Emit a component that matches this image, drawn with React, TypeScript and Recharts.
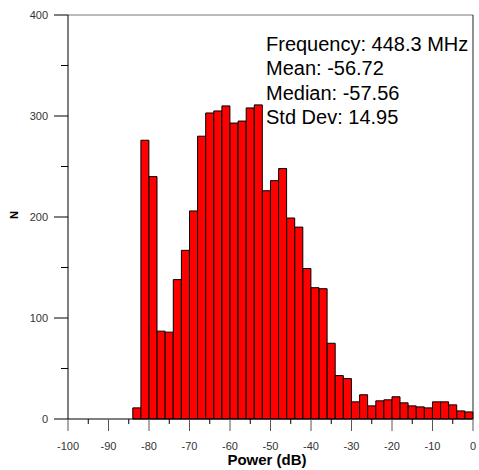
import { ComposedChart, Bar, XAxis, YAxis, ReferenceLine } from "recharts";

// histogram bins, 2 dB wide, left edges
const binStarts = [
  -84, -82, -80, -78, -76, -74, -72, -70, -68, -66, -64, -62, -60, -58,
  -56, -54, -52, -50, -48, -46, -44, -42, -40, -38, -36, -34, -32, -30,
  -28, -26, -24, -22, -20, -18, -16, -14, -12, -10, -8, -6, -4, -2,
];
const counts = [
  11, 276, 240, 87, 86, 138, 167, 206, 280, 303, 305, 310, 293, 295,
  308, 311, 226, 236, 248, 199, 190, 149, 130, 129, 75, 43, 40, 17,
  24, 13, 18, 19, 22, 16, 13, 12, 11, 17, 17, 14, 8, 7,
];
const binWidth = 2;

const xTicks = [-100, -95, -90, -85, -80, -75, -70, -65, -60, -55, -50, -45, -40, -35, -30, -25, -20, -15, -10, -5, 0];
const yTicks = [0, 50, 100, 150, 200, 250, 300, 350, 400];

const statLines = ["Frequency: 448.3 MHz", "Mean: -56.72", "Median: -57.56", "Std Dev: 14.95"];

const data = binStarts.map((s, i) => ({ center: s + binWidth / 2, n: counts[i] }));

const FONT = "'Liberation Sans', Arial, sans-serif";

function XTick(props: any) {
  const { x, y, payload } = props;
  const major = payload.value % 10 === 0;
  return (
    <g>
      <line x1={x} x2={x} y1={y} y2={y + (major ? 12 : 5)} stroke={major ? "#555" : "#000"} strokeWidth={1} />
      {major && (
        <text x={x} y={y + 31} textAnchor="middle" fontSize={11} fill="#333" fontFamily={FONT}>
          {payload.value}
        </text>
      )}
    </g>
  );
}

function YTick(props: any) {
  const { x, y, payload } = props;
  const major = payload.value % 100 === 0;
  return (
    <g>
      <line x1={x - (major ? 14 : 7)} x2={x} y1={y} y2={y} stroke="#000" strokeWidth={1} />
      {major && (
        <text x={x - 20} y={y + 4} textAnchor="end" fontSize={11} fill="#333" fontFamily={FONT}>
          {payload.value}
        </text>
      )}
    </g>
  );
}

export default function App() {
  return (
    <div style={{ position: "absolute", left: 0, top: 0, width: 479, height: 470, background: "#fff" }}>
      <ComposedChart
        width={479}
        height={470}
        data={data}
        margin={{ top: 15, right: 6, left: 0, bottom: 0 }}
        barCategoryGap={0}
        barGap={0}
      >
        <XAxis
          dataKey="center"
          type="number"
          domain={[-100, 0]}
          ticks={xTicks}
          interval={0}
          height={51}
          tickSize={0}
          tickMargin={0}
          tickLine={false}
          axisLine={{ stroke: "#000" }}
          tick={<XTick />}
        />
        <YAxis
          type="number"
          domain={[0, 400]}
          ticks={yTicks}
          interval={0}
          width={68}
          tickSize={0}
          tickMargin={0}
          tickLine={false}
          axisLine={{ stroke: "#000" }}
          tick={<YTick />}
        />
        <ReferenceLine y={400} stroke="#777" />
        <ReferenceLine x={0} stroke="#222" />
        <Bar dataKey="n" fill="#ff0000" stroke="#000" strokeWidth={1} isAnimationActive={false} />
      </ComposedChart>
      <svg
        width={479}
        height={470}
        style={{ position: "absolute", left: 0, top: 0, pointerEvents: "none" }}
      >
        {statLines.map((t, i) => (
          <text key={t} x={266} y={51 + i * 24.4} fontSize={20} fill="#000" fontFamily={FONT}>
            {t}
          </text>
        ))}
        <text
          x={18}
          y={215}
          transform="rotate(-90 18 215)"
          textAnchor="middle"
          fontSize={11}
          fontWeight="bold"
          fill="#000"
          fontFamily={FONT}
        >
          N
        </text>
        <text x={267} y={465} textAnchor="middle" fontSize={15} fontWeight="bold" fill="#000" fontFamily={FONT}>
          Power (dB)
        </text>
      </svg>
    </div>
  );
}
